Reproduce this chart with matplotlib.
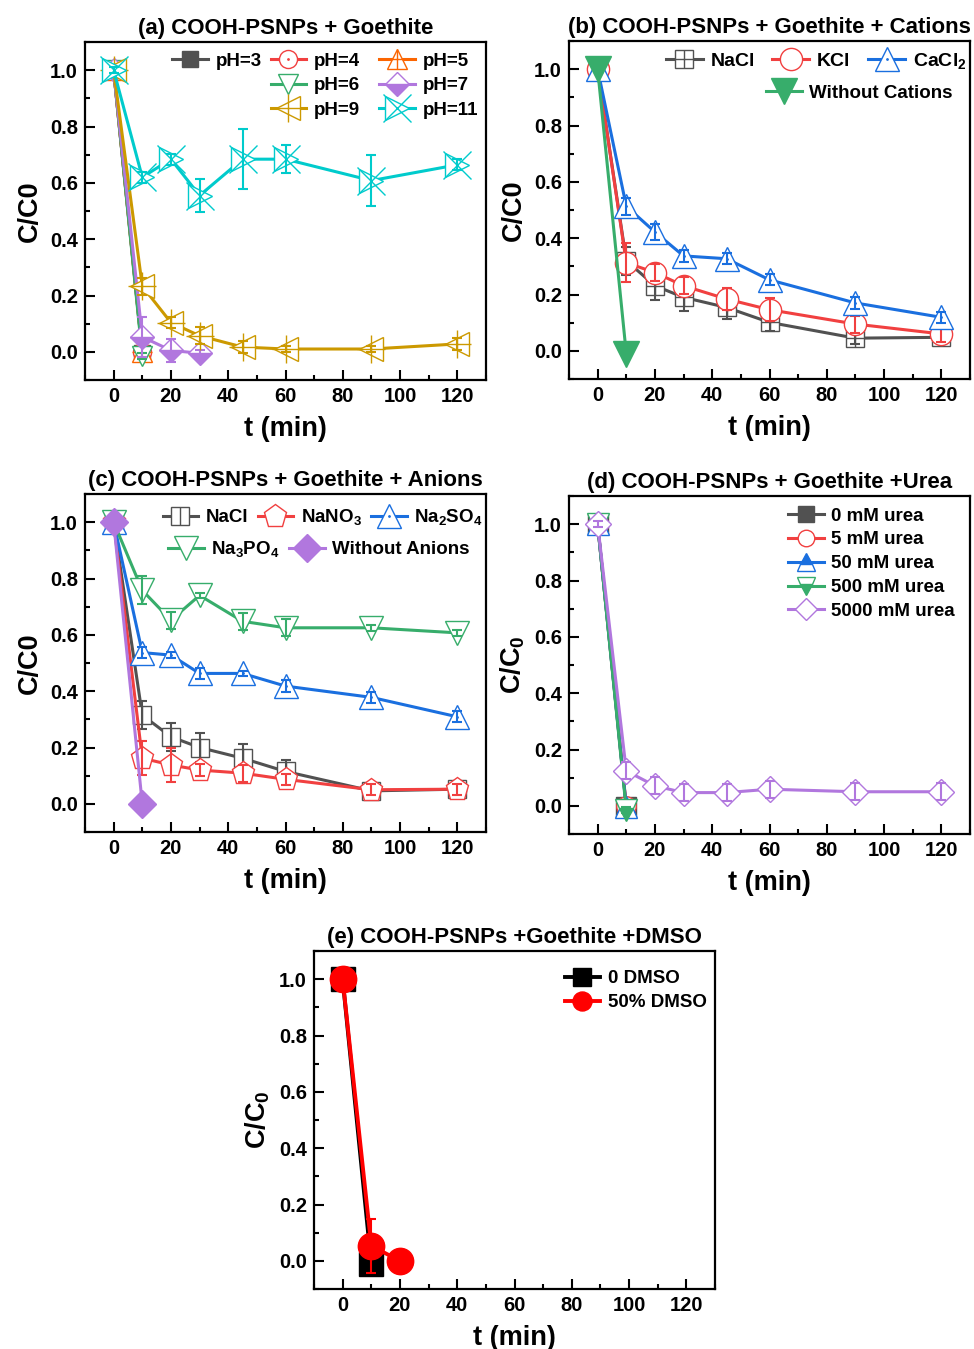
import matplotlib
matplotlib.use('Agg')
import matplotlib.pyplot as plt
from matplotlib.ticker import MultipleLocator, FormatStrFormatter

plt.rcParams['font.family'] = ['Liberation Sans', 'DejaVu Sans']
plt.rcParams['font.weight'] = 'bold'
plt.rcParams['mathtext.fontset'] = 'custom'
plt.rcParams['mathtext.rm'] = 'Liberation Sans:bold'
plt.rcParams['mathtext.it'] = 'Liberation Sans:bold'
plt.rcParams['mathtext.bf'] = 'Liberation Sans:bold'
plt.rcParams['mathtext.default'] = 'rm'

# Origin-like palette
GRAY = '#515151'
RED = '#F14040'
BLUE = '#1A6FDF'
GREEN = '#37AD6B'
PURPLE = '#B177DE'
GOLD = '#CC9900'
CYAN = '#00CBCC'
ORANGE = '#FB6501'

t = [0, 10, 20, 30, 45, 60, 90, 120]
t2 = [0, 10]

# (a) pH
ph3 = [1.0, -0.005]
ph4 = [1.0, 0.0]
ph5 = [1.0, 0.0]
ph6 = [1.0, -0.015]
ph7_t = [0, 10, 20, 30]
ph7 = [1.0, 0.053, 0.005, -0.005]
ph7_err = [0.01, 0.07, 0.04, 0.01]
ph9 = [1.0, 0.233, 0.104, 0.057, 0.017, 0.01, 0.01, 0.028]
ph9_err = [0.01, 0.03, 0.02, 0.03, 0.02, 0.01, 0.01, 0.02]
ph11 = [1.0, 0.62, 0.684, 0.555, 0.684, 0.684, 0.608, 0.664]
ph11_err = [0.01, 0.02, 0.02, 0.057, 0.106, 0.05, 0.09, 0.02]

# (b) cations
cat_nacl = [1.0, 0.32, 0.231, 0.19, 0.154, 0.101, 0.045, 0.048]
cat_nacl_err = [0.01, 0.05, 0.05, 0.05, 0.04, 0.03, 0.02, 0.01]
cat_kcl = [1.0, 0.313, 0.278, 0.231, 0.184, 0.146, 0.095, 0.06]
cat_kcl_err = [0.01, 0.07, 0.03, 0.03, 0.04, 0.04, 0.03, 0.03]
cat_cacl2 = [1.0, 0.513, 0.422, 0.337, 0.327, 0.252, 0.17, 0.119]
cat_cacl2_err = [0.01, 0.03, 0.03, 0.02, 0.02, 0.02, 0.02, 0.02]
cat_none = [1.0, -0.01]

# (c) anions
an_nacl = [1.0, 0.315, 0.238, 0.2, 0.162, 0.115, 0.046, 0.052]
an_nacl_err = [0.01, 0.05, 0.05, 0.05, 0.05, 0.04, 0.02, 0.02]
an_nano3 = [1.0, 0.162, 0.138, 0.12, 0.109, 0.087, 0.05, 0.052]
an_nano3_err = [0.01, 0.06, 0.06, 0.02, 0.03, 0.02, 0.02, 0.02]
an_na2so4 = [1.0, 0.537, 0.528, 0.463, 0.463, 0.418, 0.378, 0.309]
an_na2so4_err = [0.01, 0.02, 0.01, 0.02, 0.01, 0.02, 0.02, 0.02]
an_na3po4 = [1.0, 0.758, 0.652, 0.74, 0.648, 0.625, 0.625, 0.607]
an_na3po4_err = [0.01, 0.05, 0.03, 0.01, 0.03, 0.03, 0.01, 0.01]
an_none = [1.0, 0.0]

# (d) urea
u0 = [1.0, -0.005]
u5 = [1.0, 0.0]
u50 = [1.0, -0.005]
u500 = [1.0, -0.015]
u5000 = [1.0, 0.124, 0.071, 0.047, 0.047, 0.059, 0.05, 0.05]
u5000_err = [0.01, 0.03, 0.03, 0.03, 0.03, 0.03, 0.03, 0.03]

# (e) DMSO
dmso0 = [1.0, -0.012]
dmso50_t = [0, 10, 20]
dmso50 = [1.0, 0.053, 0.0]
dmso50_err = [0.0, 0.095, 0.0]

W, H = 974, 1349
fig = plt.figure(figsize=(W / 100, H / 100), dpi=100)


def make_ax(x0, y0, title, ylab):
    ax = fig.add_axes([x0 / W, 1 - (y0 + 338) / H, 401 / W, 338 / H])
    ax.set_xlim(-10, 130)
    ax.set_ylim(-0.1, 1.1)
    ax.xaxis.set_major_locator(MultipleLocator(20))
    ax.xaxis.set_minor_locator(MultipleLocator(10))
    ax.yaxis.set_major_locator(MultipleLocator(0.2))
    ax.yaxis.set_minor_locator(MultipleLocator(0.1))
    ax.yaxis.set_major_formatter(FormatStrFormatter('%.1f'))
    ax.tick_params(which='both', direction='in', width=1.5, labelsize=14.5, pad=5)
    ax.tick_params(which='major', length=7)
    ax.tick_params(which='minor', length=3.5)
    for s in ax.spines.values():
        s.set_linewidth(1.6)
    ax.set_title(title, fontsize=16, fontweight='bold', pad=6)
    ax.set_xlabel('t (min)', fontsize=19.5, fontweight='bold', labelpad=7)
    ax.set_ylabel(ylab, fontsize=19.5, fontweight='bold', labelpad=5)
    return ax


z = [2.0]


def series(ax, x, y, err, c, m, ms, mfc='white', fs='full', extra=None, extra_ms=None, lw=2.2):
    z[0] += 0.01
    h, = ax.plot(x, y, color=c, lw=lw, marker=m, ms=ms, mfc=mfc, mfcalt='white',
                 mec=c, mew=1.0, fillstyle=fs, zorder=z[0])
    if err is not None:
        ax.errorbar(x, y, yerr=err, fmt='none', ecolor=c, elinewidth=1.5,
                    capsize=3.5, capthick=1.5, zorder=z[0] + 0.005)
    if extra is not None:
        h2, = ax.plot(x, y, ls='none', marker=extra, ms=extra_ms, color=c,
                      mew=1.0, zorder=z[0] + 0.004)
        return (h, h2)
    return h


leg_kw = dict(frameon=False, fontsize=13.5, handlelength=1.9, handletextpad=0.4,
              columnspacing=0.5, labelspacing=0.36, borderpad=0.2)

# ---- (a)
ax = make_ax(85, 42, '(a) COOH-PSNPs + Goethite', 'C/C0')
h3 = series(ax, t2, ph3, [0.01, 0.01], GRAY, 's', 12, mfc=GRAY)
h4 = series(ax, t2, ph4, [0.01, 0.01], RED, 'o', 13, extra='.', extra_ms=2)
h5 = series(ax, t2, ph5, [0.01, 0.01], ORANGE, '^', 15, extra='+', extra_ms=14)
h6 = series(ax, t2, ph6, [0.01, 0.01], GREEN, 'v', 15)
h7 = series(ax, ph7_t, ph7, ph7_err, PURPLE, 'D', 12.5, mfc=PURPLE, fs='bottom')
h9 = series(ax, t, ph9, ph9_err, GOLD, '<', 17, extra='+', extra_ms=20)
h11 = series(ax, t, ph11, ph11_err, CYAN, '>', 17, extra='x', extra_ms=20)
lg = ax.legend([h3], ['pH=3'], loc='upper left', bbox_to_anchor=(0.185, 1.008), **leg_kw)
ax.add_artist(lg)
ax.legend([h4, h6, h9, h5, h7, h11],
          ['pH=4', 'pH=6', 'pH=9', 'pH=5', 'pH=7', 'pH=11'],
          ncol=2, loc='upper left', bbox_to_anchor=(0.43, 1.008),
          **{**leg_kw, 'columnspacing': 1.05, 'labelspacing': 0.4})

# ---- (b)
ax = make_ax(569, 41, '(b) COOH-PSNPs + Goethite + Cations', 'C/C0')
hb1 = series(ax, t, cat_nacl, cat_nacl_err, GRAY, 's', 12.5, extra='+', extra_ms=12.5)
hb2 = series(ax, t, cat_kcl, cat_kcl_err, RED, 'o', 16)
hb3 = series(ax, t, cat_cacl2, cat_cacl2_err, BLUE, '^', 17, extra='.', extra_ms=2)
hb4 = series(ax, t2, cat_none, None, GREEN, 'v', 19, mfc=GREEN)
lg = ax.legend([hb1, hb2, hb3], ['NaCl', 'KCl', 'CaCl$_2$'], ncol=3,
               loc='upper right', bbox_to_anchor=(1.025, 1.012),
               **{**leg_kw, 'columnspacing': 0.9, 'fontsize': 14})
ax.add_artist(lg)
ax.legend([hb4], ['Without Cations'], loc='upper right',
          bbox_to_anchor=(0.99, 0.91), **leg_kw)

# ---- (c)
ax = make_ax(85, 494, '(c) COOH-PSNPs + Goethite + Anions', 'C/C0')
hc1 = series(ax, t, an_nacl, an_nacl_err, GRAY, 's', 13, extra='|', extra_ms=13)
hc2 = series(ax, t, an_nano3, an_nano3_err, RED, 'p', 17)
hc3 = series(ax, t, an_na2so4, an_na2so4_err, BLUE, '^', 17, extra='.', extra_ms=2)
hc4 = series(ax, t, an_na3po4, an_na3po4_err, GREEN, 'v', 17)
hc5 = series(ax, t2, an_none, None, PURPLE, 'D', 14.5, mfc=PURPLE)
lg = ax.legend([hc1, hc2, hc3], ['NaCl', 'NaNO$_3$', 'Na$_2$SO$_4$'], ncol=3,
               loc='upper right', bbox_to_anchor=(1.025, 1.0), **leg_kw)
ax.add_artist(lg)
ax.legend([hc4, hc5], ['Na$_3$PO$_4$', 'Without Anions'], ncol=2,
          loc='upper left', bbox_to_anchor=(0.175, 0.905), **leg_kw)

# ---- (d)
ax = make_ax(569, 496, '(d) COOH-PSNPs + Goethite +Urea', 'C/C$_0$')
hd1 = series(ax, t2, u0, [0.01, 0.01], GRAY, 's', 14, mfc=GRAY)
hd2 = series(ax, t2, u5, [0.01, 0.01], RED, 'o', 14)
hd3 = series(ax, t2, u50, [0.01, 0.01], BLUE, '^', 16, mfc=BLUE, fs='top')
hd4 = series(ax, t2, u500, [0.01, 0.01], GREEN, 'v', 16, mfc=GREEN, fs='bottom')
hd5 = series(ax, t, u5000, u5000_err, PURPLE, 'D', 13.5)
ax.legend([hd1, hd2, hd3, hd4, hd5],
          ['0 mM urea', '5 mM urea', '50 mM urea', '500 mM urea', '5000 mM urea'],
          loc='upper right', bbox_to_anchor=(0.995, 1.005), markerscale=0.85, **leg_kw)

# ---- (e)
ax = make_ax(314, 951, '(e) COOH-PSNPs +Goethite +DMSO', 'C/C$_0$')
he1 = series(ax, t2, dmso0, None, 'black', 's', 17.5, mfc='black', lw=2.8)
he2 = series(ax, dmso50_t, dmso50, dmso50_err, '#FF0000', 'o', 19, mfc='#FF0000', lw=2.8)
ax.legend([he1, he2], ['0 DMSO', '50% DMSO'], loc='upper right',
          bbox_to_anchor=(1.012, 0.982), markerscale=0.72, **leg_kw)

fig.savefig('out.png', dpi=100)
